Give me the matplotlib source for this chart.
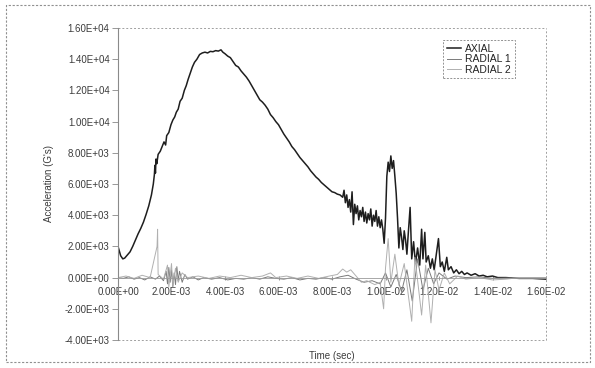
import matplotlib
matplotlib.use("Agg")
import matplotlib.pyplot as plt
from matplotlib.patches import Rectangle
from matplotlib.ticker import FuncFormatter

# time in ms, acceleration in G's
axial_t = [0.00, 0.05, 0.10, 0.18, 0.25, 0.35, 0.45, 0.55, 0.65, 0.75, 0.85, 0.95,
           1.05, 1.15, 1.25, 1.32, 1.36, 1.38, 1.40, 1.42, 1.45, 1.50, 1.58, 1.65,
           1.72, 1.78, 1.82, 1.90, 1.98, 2.05, 2.12, 2.18, 2.25, 2.32, 2.40, 2.48,
           2.55, 2.62, 2.70, 2.78, 2.86, 2.95, 3.05, 3.15, 3.25, 3.35, 3.45, 3.55,
           3.65, 3.75, 3.85, 3.92, 4.00, 4.10, 4.20, 4.30, 4.40, 4.50, 4.60, 4.70,
           4.80, 4.90, 5.00, 5.10, 5.20, 5.30, 5.40, 5.50, 5.60, 5.70, 5.80, 5.90,
           6.00, 6.10, 6.20, 6.30, 6.40, 6.50, 6.60, 6.70, 6.80, 6.90, 7.00, 7.10,
           7.20, 7.30, 7.40, 7.50, 7.60, 7.70, 7.80, 7.90, 8.00, 8.10, 8.20, 8.30,
           8.40, 8.45, 8.50, 8.55, 8.60, 8.65, 8.70, 8.75, 8.80, 8.85, 8.90, 8.95,
           9.00, 9.05, 9.10, 9.15, 9.20, 9.25, 9.30, 9.35, 9.40, 9.45, 9.50, 9.55,
           9.60, 9.65, 9.70, 9.75, 9.80, 9.85, 9.90, 9.95, 10.00, 10.05, 10.10, 10.15,
           10.20, 10.25, 10.30, 10.35, 10.40, 10.45, 10.50, 10.55, 10.60, 10.65, 10.70,
           10.75, 10.80, 10.85, 10.92, 10.98, 11.05, 11.12, 11.20, 11.28, 11.35, 11.40,
           11.47, 11.52, 11.60, 11.68, 11.75, 11.82, 11.98, 12.05, 12.12, 12.20, 12.29,
           12.35, 12.45, 12.55, 12.65, 12.75, 12.85, 12.95, 13.05, 13.20, 13.35, 13.50,
           13.65, 13.80, 14.00, 14.20, 14.50, 15.00, 15.50, 16.00]
axial_g = [2000, 1700, 1400, 1200, 1250, 1450, 1650, 2000, 2400, 2800, 3150, 3550,
           4050, 4600, 5300, 6000, 6600, 7200, 6700, 7600, 7300, 7900, 8100, 8400,
           8700, 8500, 9100, 9300, 9800, 10100, 10300, 10600, 10800, 11300, 11500, 12000,
           12300, 12700, 13100, 13500, 13800, 14000, 14300, 14400, 14450, 14400, 14500, 14480,
           14550, 14520, 14600, 14450, 14350, 14200, 14100, 13850, 13600, 13500, 13250, 13050,
           12850, 12600, 12300, 12000, 11700, 11400, 11250, 11050, 10800, 10450, 10250, 10000,
           9800, 9500, 9200, 8950, 8700, 8400, 8200, 7950, 7700, 7500, 7300, 7100,
           6850, 6650, 6450, 6300, 6100, 5950, 5800, 5650, 5500, 5450, 5350, 5300,
           5150, 5600, 4800, 5300, 4500, 5000, 4200, 5500, 3400, 4700, 4100, 4600,
           3700, 4300, 3900, 4500, 3600, 4200, 3500, 4100, 3700, 4400, 3300, 4000,
           3600, 4300, 3300, 3900, 3200, 3700, 3100, 2200, 3800, 6500, 7400, 6800,
           7800, 7000, 7500, 6500, 5400, 3800, 1900, 3200, 2600, 1800, 3000,
           2400, 1500, 2800, 4500, 1200, 2300, 900, 1900, 800, 3100, 1200,
           2900, 1000, 1400, 600, 1200, 500, 2500, 700, 1000, 400, 1300,
           500, 700, 300, 500, 250, 400, 200, 300, 150, 250, 100,
           150, 50, 100, 0, 0, -50, -50, -100]

radial1_t = [0.00, 0.20, 0.40, 0.60, 0.80, 1.00, 1.20, 1.40, 1.55, 1.70, 1.80, 1.85,
             1.90, 1.95, 2.00, 2.05, 2.10, 2.15, 2.20, 2.25, 2.30, 2.40, 2.50, 2.60,
             2.80, 3.00, 3.20, 3.50, 3.80, 4.10, 4.40, 4.70, 5.00, 5.30, 5.60, 5.90,
             6.20, 6.50, 6.80, 7.10, 7.40, 7.70, 8.00, 8.30, 8.60, 8.90, 9.20, 9.50,
             9.80, 10.00, 10.20, 10.40, 10.60, 10.80, 11.00, 11.20, 11.40, 11.60, 11.80,
             12.00, 12.30, 12.60, 13.00, 13.50, 14.00, 15.00, 16.00]
radial1_g = [0, -50, 50, -100, 0, -150, 50, -100, 100, -200, 400, -400,
             650, -300, 500, -600, 300, -450, 700, -200, 400, -300, 200, -100,
             50, -150, 0, -100, 0, -150, -50, -100, 0, -100, 50, -50,
             -100, 0, -150, -50, -100, 0, -100, 50, 150, -100, -300, -200,
             -400, 300, -600, 200, -900, 500, -1500, 1200, -800, 600, -400,
             300, -100, 100, 0, 50, -50, 0, 0]

radial2_t = [0.00, 0.30, 0.60, 0.90, 1.20, 1.46, 1.48, 1.50, 1.70, 1.85, 1.90, 2.00,
             2.05, 2.15, 2.25, 2.40, 2.60, 3.00, 3.40, 3.80, 4.20, 4.60, 5.00, 5.40,
             5.70, 5.90, 6.30, 6.70, 7.10, 7.50, 7.90, 8.20, 8.40, 8.55, 8.70, 8.90,
             9.10, 9.30, 9.60, 9.80, 9.93, 10.00, 10.10, 10.20, 10.35, 10.50, 10.70,
             10.98, 11.10, 11.35, 11.50, 11.70, 11.85, 12.00, 12.20, 12.40, 12.70,
             13.00, 13.50, 14.00, 14.50, 15.00, 16.00]
radial2_g = [0, 100, -50, 150, 0, 2000, 3100, 200, -100, 800, -600, 900,
             -500, 600, -300, 300, 0, 100, -50, 100, 0, 150, 0, 100,
             300, 0, 100, -50, 100, -50, 100, 200, 550, 350, 500, 100,
             -300, -200, -450, -300, -2000, 600, 2500, -300, 1500, -500, 900,
             -2800, 1300, -2400, 800, -2900, 500, -800, 300, -400, 100,
             -100, 0, -150, -100, 0, 0]

series = [
    ("AXIAL", axial_t, axial_g, "#1e1e1e", 1.1),
    ("RADIAL 1", radial1_t, radial1_g, "#7a7a7a", 0.7),
    ("RADIAL 2", radial2_t, radial2_g, "#b0b0b0", 0.7),
]

W, H = 595, 368
fig = plt.figure(figsize=(W / 100, H / 100), dpi=100)
plt.rcParams["font.family"] = ["Liberation Sans", "DejaVu Sans"]
txt = "#3c3c3c"

ax = fig.add_axes([118 / W, 1 - 340 / H, 428 / W, 312 / H])

for name, t, g, col, lw in series:
    ax.plot([v / 1000 for v in t], g, color=col, linewidth=lw, label=name)

ax.set_xlim(0, 0.016)
ax.set_ylim(-4000, 16000)
ax.set_xticks([i * 0.002 for i in range(9)])
ax.set_yticks(list(range(-4000, 16001, 2000)))
ax.xaxis.set_major_formatter(FuncFormatter(lambda v, p: f"{v:.2E}"))
ax.yaxis.set_major_formatter(FuncFormatter(lambda v, p: f"{v:.2E}"))

# x axis sits on the zero line, frame is dotted
ax.spines["bottom"].set_position(("data", 0))
ax.spines["bottom"].set_color("#9a9a9a")
ax.spines["bottom"].set_linewidth(0.6)
ax.spines["left"].set_color("#8a8a8a")
ax.spines["left"].set_linewidth(0.8)
ax.spines["top"].set_visible(False)
ax.spines["right"].set_visible(False)
for xs, ys in [([0, 1], [1, 1]), ([1, 1], [0, 1]), ([0, 1], [0, 0])]:
    ax.plot(xs, ys, transform=ax.transAxes, color="#a0a0a0", linewidth=0.7,
            linestyle=(0, (2, 2)), clip_on=False)

ax.tick_params(axis="x", direction="inout", length=3, width=0.6, color="#888",
               labelsize=7, labelcolor=txt, pad=5)
ax.tick_params(axis="y", direction="out", length=4, width=0.6, color="#888",
               labelsize=7, labelcolor=txt, pad=2)

ax.set_ylabel("Acceleration (G's)", fontsize=7, color=txt, labelpad=8)
ax.set_xlabel("Time (sec)", fontsize=7, color=txt)
ax.xaxis.set_label_coords(0.5, -0.035)

leg = ax.legend(loc="upper left", bbox_to_anchor=(443 / W, 1 - 40 / H),
                bbox_transform=fig.transFigure, fontsize=7.5, frameon=True,
                fancybox=False, handlelength=1.4, handletextpad=0.4,
                borderpad=0.35, labelspacing=0.05, borderaxespad=0)
leg.get_frame().set_edgecolor("#777")
leg.get_frame().set_linewidth(0.7)
leg.get_frame().set_linestyle((0, (2, 1.5)))
for t in leg.get_texts():
    t.set_color("#222")

# dotted border round the whole picture
fig.patches.append(Rectangle((6 / W, 1 - 362 / H), 584 / W, 357 / H,
                             transform=fig.transFigure, fill=False,
                             edgecolor="#909090", linewidth=0.8,
                             linestyle=(0, (2, 1.5))))

fig.savefig("out.png", dpi=100)
